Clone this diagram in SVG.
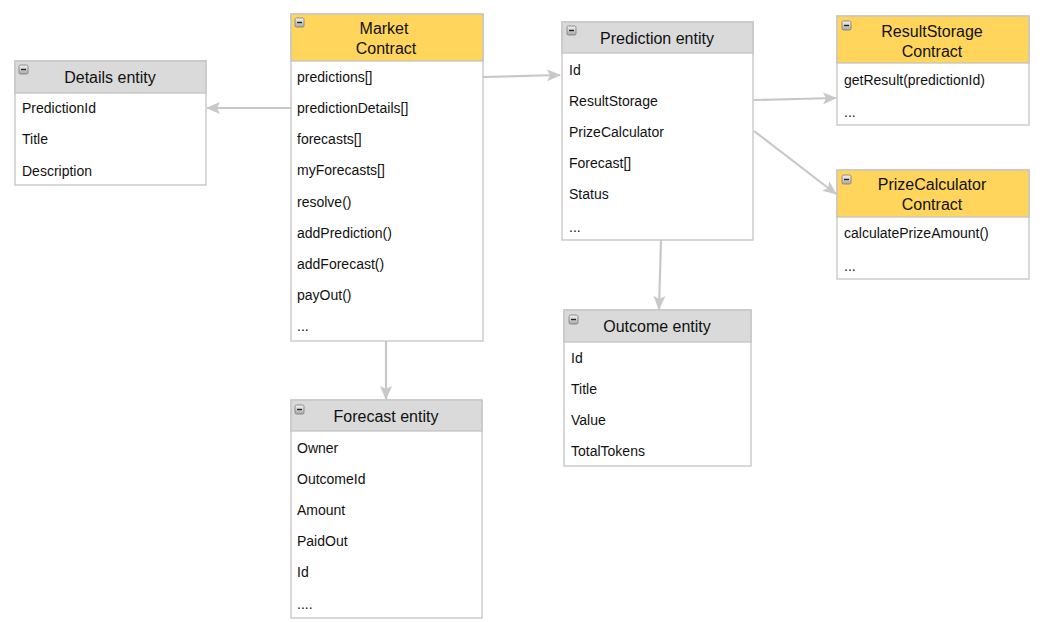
<svg xmlns="http://www.w3.org/2000/svg" width="1043" height="622" viewBox="0 0 1043 622">
<style>
.box{fill:#ffffff;stroke:#c4c4c4;stroke-width:1.3}
.hg{fill:#dadada;stroke:#c4c4c4;stroke-width:1.3}
.hy{fill:#ffd55c;stroke:#c4c4c4;stroke-width:1.3}
.t{font-family:"Liberation Sans",Arial,sans-serif;font-size:14px;fill:#111}
.h{font-family:"Liberation Sans",Arial,sans-serif;font-size:16px;fill:#111;text-anchor:middle}
.ic{fill:url(#icg);stroke:#7a7a7a;stroke-width:0.8}
.icl{stroke:#222;stroke-width:1.4}
.c{fill:none;stroke:#c8c8c8;stroke-width:2.2}
</style>
<defs>
<linearGradient id="icg" x1="0" y1="0" x2="0" y2="1">
<stop offset="0" stop-color="#f4f4f4"/>
<stop offset="1" stop-color="#a8a8a8"/>
</linearGradient>
<marker id="arr" viewBox="0 0 14 12" refX="13" refY="6" markerWidth="14" markerHeight="12" markerUnits="userSpaceOnUse" orient="auto">
<path d="M0,0 L14,6 L0,12 L3,6 Z" fill="#c8c8c8"/>
</marker>
<g id="icon"><rect class="ic" x="0" y="0" width="9" height="9" rx="1.5"/><line class="icl" x1="2" y1="4.5" x2="7" y2="4.5"/></g>
</defs>
<rect width="1043" height="622" fill="#ffffff"/>

<g id="connectors">
<line class="c" x1="483" y1="77" x2="560" y2="75" marker-end="url(#arr)"/>
<line class="c" x1="291" y1="108" x2="207" y2="108" marker-end="url(#arr)"/>
<line class="c" x1="386" y1="341" x2="386" y2="399" marker-end="url(#arr)"/>
<line class="c" x1="754" y1="100" x2="836" y2="98" marker-end="url(#arr)"/>
<line class="c" x1="754" y1="131" x2="836" y2="194" marker-end="url(#arr)"/>
<line class="c" x1="661" y1="240" x2="659" y2="309" marker-end="url(#arr)"/>
</g>

<g id="market-contract">
<rect class="box" x="291" y="14" width="192" height="327"/>
<rect class="hy" x="291" y="14" width="192" height="47"/>
<use href="#icon" x="295" y="18"/>
<text class="h" x="384" y="34">Market</text>
<text class="h" x="386" y="54">Contract</text>
<text class="t" x="297" y="82">predictions[]</text>
<text class="t" x="297" y="113">predictionDetails[]</text>
<text class="t" x="297" y="144">forecasts[]</text>
<text class="t" x="297" y="175">myForecasts[]</text>
<text class="t" x="297" y="207">resolve()</text>
<text class="t" x="297" y="238">addPrediction()</text>
<text class="t" x="297" y="269">addForecast()</text>
<text class="t" x="297" y="300">payOut()</text>
<text class="t" x="297" y="331">...</text>
</g>

<g id="details-entity">
<rect class="box" x="15" y="61" width="191" height="124"/>
<rect class="hg" x="15" y="61" width="191" height="32"/>
<use href="#icon" x="19" y="65"/>
<text class="h" x="110" y="83">Details entity</text>
<text class="t" x="22" y="113">PredictionId</text>
<text class="t" x="22" y="144">Title</text>
<text class="t" x="22" y="176">Description</text>
</g>

<g id="prediction-entity">
<rect class="box" x="562" y="22" width="191" height="218"/>
<rect class="hg" x="562" y="22" width="191" height="31"/>
<use href="#icon" x="567" y="26"/>
<text class="h" x="657" y="44">Prediction entity</text>
<text class="t" x="569" y="75">Id</text>
<text class="t" x="569" y="106">ResultStorage</text>
<text class="t" x="569" y="137">PrizeCalculator</text>
<text class="t" x="569" y="168">Forecast[]</text>
<text class="t" x="569" y="199">Status</text>
<text class="t" x="569" y="232">...</text>
</g>

<g id="resultstorage-contract">
<rect class="box" x="837" y="16" width="192" height="109"/>
<rect class="hy" x="837" y="16" width="192" height="47"/>
<use href="#icon" x="842" y="21"/>
<text class="h" x="932" y="37">ResultStorage</text>
<text class="h" x="932" y="57">Contract</text>
<text class="t" x="844" y="85">getResult(predictionId)</text>
<text class="t" x="844" y="117">...</text>
</g>

<g id="prizecalculator-contract">
<rect class="box" x="837" y="170" width="192" height="109"/>
<rect class="hy" x="837" y="170" width="192" height="47"/>
<use href="#icon" x="842" y="175"/>
<text class="h" x="932" y="190">PrizeCalculator</text>
<text class="h" x="932" y="210">Contract</text>
<text class="t" x="844" y="238">calculatePrizeAmount()</text>
<text class="t" x="844" y="271">...</text>
</g>

<g id="forecast-entity">
<rect class="box" x="291" y="400" width="191" height="218"/>
<rect class="hg" x="291" y="400" width="191" height="31"/>
<use href="#icon" x="295" y="405"/>
<text class="h" x="386" y="422">Forecast entity</text>
<text class="t" x="297" y="453">Owner</text>
<text class="t" x="297" y="484">OutcomeId</text>
<text class="t" x="297" y="515">Amount</text>
<text class="t" x="297" y="546">PaidOut</text>
<text class="t" x="297" y="577">Id</text>
<text class="t" x="297" y="609">....</text>
</g>

<g id="outcome-entity">
<rect class="box" x="564" y="310" width="187" height="156"/>
<rect class="hg" x="564" y="310" width="187" height="32"/>
<use href="#icon" x="569" y="315"/>
<text class="h" x="657" y="332">Outcome entity</text>
<text class="t" x="571" y="363">Id</text>
<text class="t" x="571" y="394">Title</text>
<text class="t" x="571" y="425">Value</text>
<text class="t" x="571" y="456">TotalTokens</text>
</g>
</svg>
